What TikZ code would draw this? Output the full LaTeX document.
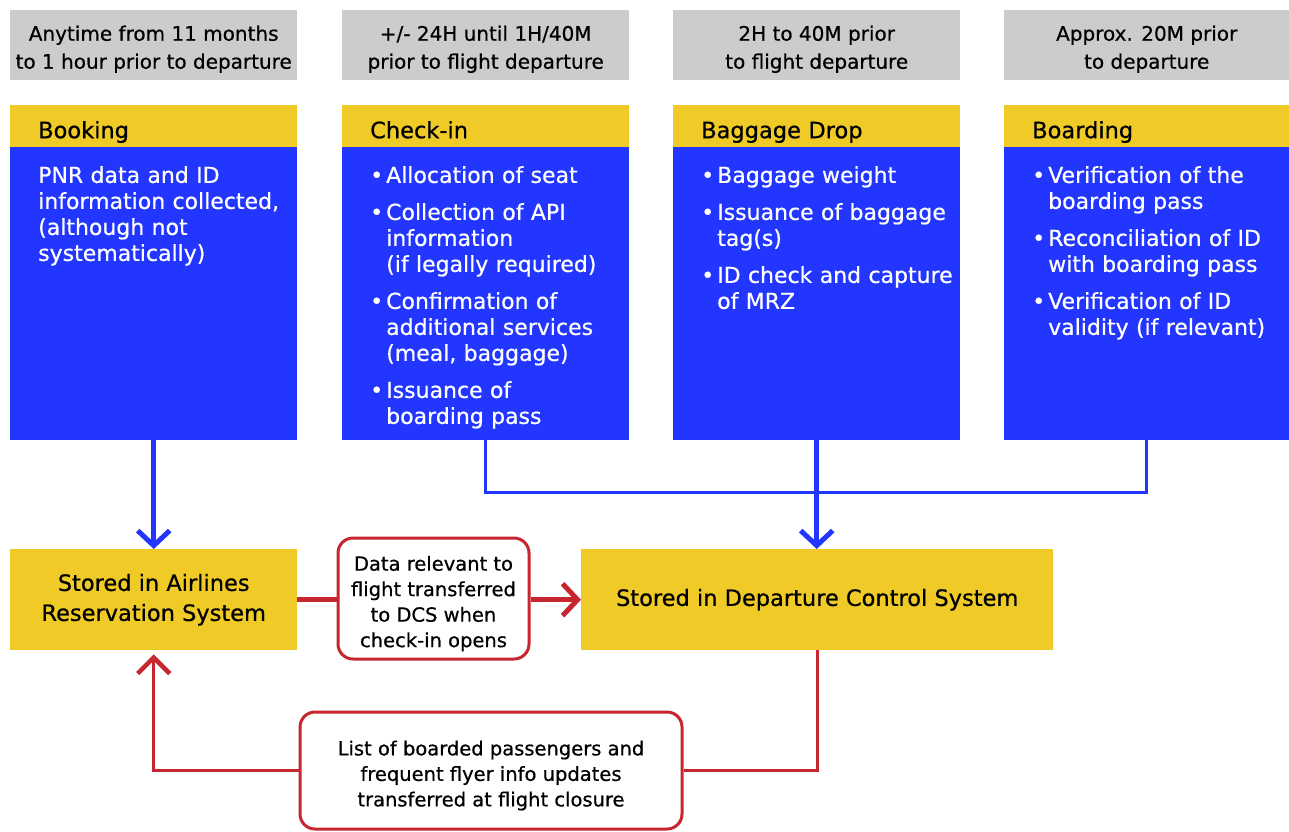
\documentclass[tikz,border=0pt]{standalone}
\usepackage{fontspec}
\setmainfont[FakeBold=0.6]{DejaVu Sans}
\usetikzlibrary{arrows.meta}
\definecolor{tgrey}{HTML}{CCCCCC}
\definecolor{tyel}{HTML}{F0CA26}
\definecolor{tblue}{HTML}{2236FF}
\definecolor{tred}{HTML}{C8262E}
\newcommand\bitem[1]{\hangindent=16pt\hangafter=1\noindent\makebox[16pt][l]{•}#1\par}
\newcommand\isep{\vspace{11pt}}
\begin{document}
\begin{tikzpicture}[x=1pt,y=-1pt,
  greybox/.style={fill=tgrey, inner sep=0pt, minimum height=70pt, anchor=north west},
  greytext/.style={inner sep=0pt, align=center, font=\fontsize{20}{28}\selectfont},
  hdrbox/.style={fill=tyel, inner xsep=28pt, inner ysep=0pt, minimum height=42pt, text height=24pt,
    text depth=0pt, text width=231pt, align=left, anchor=north west, font=\fontsize{22.5}{27}\selectfont},
  bodybox/.style={fill=tblue, inner sep=0pt, minimum height=293pt, anchor=north west},
  bodytext/.style={text=white, inner sep=0pt, text width=255pt, align=left, anchor=north west,
    font=\fontsize{22}{26}\selectfont},
  storebox/.style={fill=tyel, inner sep=0pt, minimum height=101pt, align=center, anchor=north west,
    font=\fontsize{22.5}{30}\selectfont},
  lblbox/.style={draw=tred, line width=3pt, rounded corners=15pt, fill=white, inner sep=0pt},
  lbltext/.style={inner sep=0pt, align=center, font=\fontsize{19.5}{25.5}\selectfont},
  bthick/.style={draw=tblue, line width=5pt},
  bthin/.style={draw=tblue, line width=3pt},
  rthick/.style={draw=tred, line width=5pt},
  rthin/.style={draw=tred, line width=3pt},
  tip/.style={-{Straight Barb[length=15pt,width=32pt]}},
  thintip/.style={-{Straight Barb[length=16pt,width=32pt,line width=4.5pt]}, shorten >=4pt}
]
\useasboundingbox (0,0) rectangle (1289,831);

% time boxes
\node[greybox, minimum width=287pt] (t1) at (10,10) {};
\node[greybox, minimum width=287pt] (t2) at (342,10) {};
\node[greybox, minimum width=287pt] (t3) at (673,10) {};
\node[greybox, minimum width=285pt] (t4) at (1004,10) {};
\node[greytext, yshift=-4pt] (t1t) at (t1.center) {Anytime from 11 months\\to 1 hour prior to departure};
\node[greytext, yshift=-4pt] (t2t) at (t2.center) {+/- 24H until 1H/40M\\prior to flight departure};
\node[greytext, yshift=-4pt] (t3t) at (t3.center) {2H to 40M prior\\to flight departure};
\node[greytext, yshift=-4pt] (t4t) at (t4.center) {Approx. 20M prior\\to departure};

% headers
\node[hdrbox] (h1) at (10,105) {Booking};
\node[hdrbox] (h2) at (342,105) {Check-in};
\node[hdrbox] (h3) at (673,105) {Baggage Drop};
\node[hdrbox, text width=229pt] (h4) at (1004,105) {Boarding};

% bodies
\node[bodybox, minimum width=287pt] (b1) at (10,147) {};
\node[bodybox, minimum width=287pt] (b2) at (342,147) {};
\node[bodybox, minimum width=287pt] (b3) at (673,147) {};
\node[bodybox, minimum width=285pt] (b4) at (1004,147) {};

\node[bodytext] (b1t) at (38,166) {PNR data and ID\newline information collected,\newline (although not\newline systematically)};
\node[bodytext] (b2t) at (370,166) {%
  \bitem{Allocation of seat}\isep
  \bitem{Collection of API\newline information\newline (if legally required)}\isep
  \bitem{Confirmation of\newline additional services\newline (meal, baggage)}\isep
  \bitem{Issuance of\newline boarding pass}};
\node[bodytext] (b3t) at (701,166) {%
  \bitem{Baggage weight}\isep
  \bitem{Issuance of baggage\newline tag(s)}\isep
  \bitem{ID check and capture\newline of MRZ}};
\node[bodytext] (b4t) at (1032,166) {%
  \bitem{Verification of the\newline boarding pass}\isep
  \bitem{Reconciliation of ID\newline with boarding pass}\isep
  \bitem{Verification of ID\newline validity (if relevant)}};

% storage systems
\node[storebox, minimum width=287pt] (ars) at (10,549) {Stored in Airlines\\Reservation System};
\node[storebox, minimum width=472pt] (dcs) at (581,549) {Stored in Departure Control System};

% transfer labels
\node[lblbox, minimum width=191pt, minimum height=121pt] (l1) at (433.5,598.5) {};
\node[lbltext, yshift=-5pt] (l1t) at (l1.center) {Data relevant to\\flight transferred\\to DCS when\\check-in opens};
\node[lblbox, minimum width=382pt, minimum height=117pt] (l2) at (491,770.5) {};
\node[lbltext, yshift=-5pt] (l2t) at (l2.center) {List of boarded passengers and\\frequent flyer info updates\\transferred at flight closure};

% blue connectors
\coordinate (j) at (485.5,492);
\draw[bthin] (b2.south) -- (b2.south |- j) -| (b4.south);
\draw[bthick, tip] (b1.south) -- (ars.north);
\draw[bthick, tip] (b3.south) -- (b3.south |- dcs.north);

% red connectors
\draw[rthick] (ars.east) -- (ars.east -| l1.west);
\draw[rthick, tip] (l1.east |- dcs.west) -- (dcs.west);
\draw[rthin] (dcs.south) |- (l2.east);
\draw[rthin, thintip] (l2.west) -| (ars.south);
\end{tikzpicture}
\end{document}
